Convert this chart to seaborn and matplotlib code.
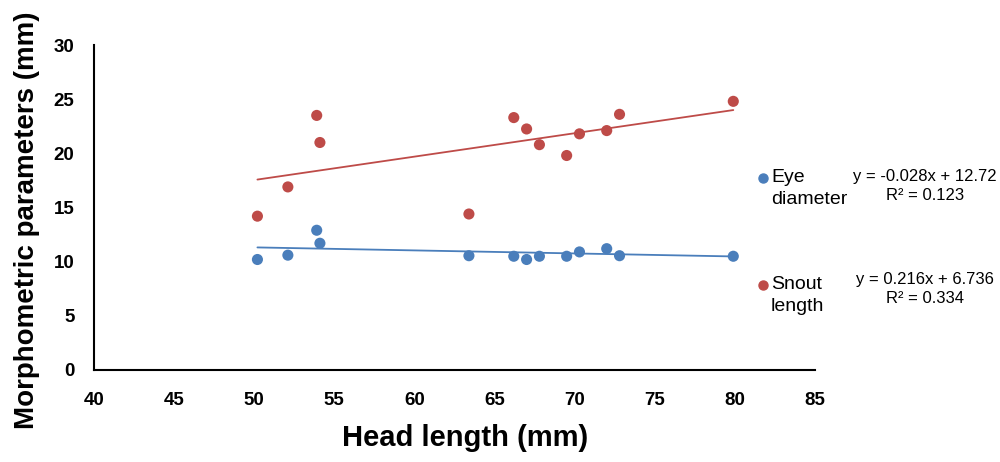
import numpy as np
import pandas as pd
import matplotlib
matplotlib.use("Agg")
import matplotlib.pyplot as plt
from matplotlib.lines import Line2D
import seaborn as sns

# Data
head_length = [50.2, 52.1, 53.9, 54.1, 63.4, 66.2, 67.0, 67.8, 69.5, 70.3, 72.0, 72.8, 79.9]
eye_diameter = [10.2, 10.6, 12.9, 11.7, 10.55, 10.5, 10.2, 10.5, 10.5, 10.9, 11.2, 10.55, 10.5]
snout_length = [14.2, 16.9, 23.5, 21.0, 14.4, 23.3, 22.25, 20.8, 19.8, 21.8, 22.1, 23.6, 24.8]

series = ["Eye diameter", "Snout length"]
legend_labels = ["Eye\ndiameter", "Snout\nlength"]
slopes = [-0.028, 0.216]
intercepts = [12.72, 6.736]
r2 = [0.123, 0.334]
colors = ["#4a7ebb", "#be4b48"]

df = pd.DataFrame({
    "Head length": head_length * 2,
    "value": eye_diameter + snout_length,
    "series": [series[0]] * len(head_length) + [series[1]] * len(head_length),
})

sns.set_style("white")
plt.rcParams["font.family"] = ["Liberation Sans", "DejaVu Sans"]
plt.rcParams["text.color"] = "black"
plt.rcParams["axes.labelcolor"] = "black"
plt.rcParams["xtick.color"] = "black"
plt.rcParams["ytick.color"] = "black"

fig = plt.figure(figsize=(10, 4.62), dpi=100)
ax = fig.add_axes([0.094, 1 - 370 / 462, 0.721, (370 - 45) / 462])

sns.scatterplot(data=df, x="Head length", y="value", hue="series",
                palette=colors, s=64, edgecolor="none", legend=False, ax=ax, zorder=3)

# linear trend lines from the equations shown on the chart
xs = np.array([min(head_length), max(head_length)])
for m, b, c in zip(slopes, intercepts, colors):
    ax.plot(xs, m * xs + b, color=c, lw=1.3, zorder=2)

ax.set_xlim(40, 85)
ax.set_ylim(0, 30)
ax.set_xticks(np.arange(40, 86, 5))
ax.set_yticks(np.arange(0, 31, 5))
for s in ["top", "right"]:
    ax.spines[s].set_visible(False)
for s in ["left", "bottom"]:
    ax.spines[s].set_color("black")
    ax.spines[s].set_linewidth(1.5)
ax.tick_params(axis="both", length=0, labelsize=13.5)
ax.tick_params(axis="x", pad=16)
ax.tick_params(axis="y", pad=14)
for lab in ax.get_xticklabels() + ax.get_yticklabels():
    lab.set_fontweight("bold")

ax.set_xlabel("Head length (mm)", fontsize=21, fontweight="bold")
ax.set_ylabel("Morphometric parameters (mm)", fontsize=20, fontweight="bold")
ax.xaxis.set_label_coords(0.515, -0.165)
ax.yaxis.set_label_coords(-0.075, 0.46)

# legend and trendline equations
leg_y = [178 / 462, 285 / 462]
for lab, c, y in zip(legend_labels, colors, leg_y):
    fig.add_artist(Line2D([763 / 1000], [1 - y], marker="o", color=c, ms=6.5,
                          ls="none", transform=fig.transFigure))
    fig.text(771 / 1000, 1 - y + 0.019, lab, fontsize=14, va="top", ha="left",
             linespacing=1.37)

eq_y = [175 / 462, 278 / 462]
for m, b, r, y in zip(slopes, intercepts, r2, eq_y):
    sign = "-" if m < 0 else ""
    txt = f"y = {sign}{abs(m):.3f}x + {b:g}\nR² = {r:.3f}"
    fig.text(925 / 1000, 1 - y + 0.013, txt, fontsize=12, ha="center", va="top",
             multialignment="center", linespacing=1.3)

fig.savefig("out.png", dpi=100)
